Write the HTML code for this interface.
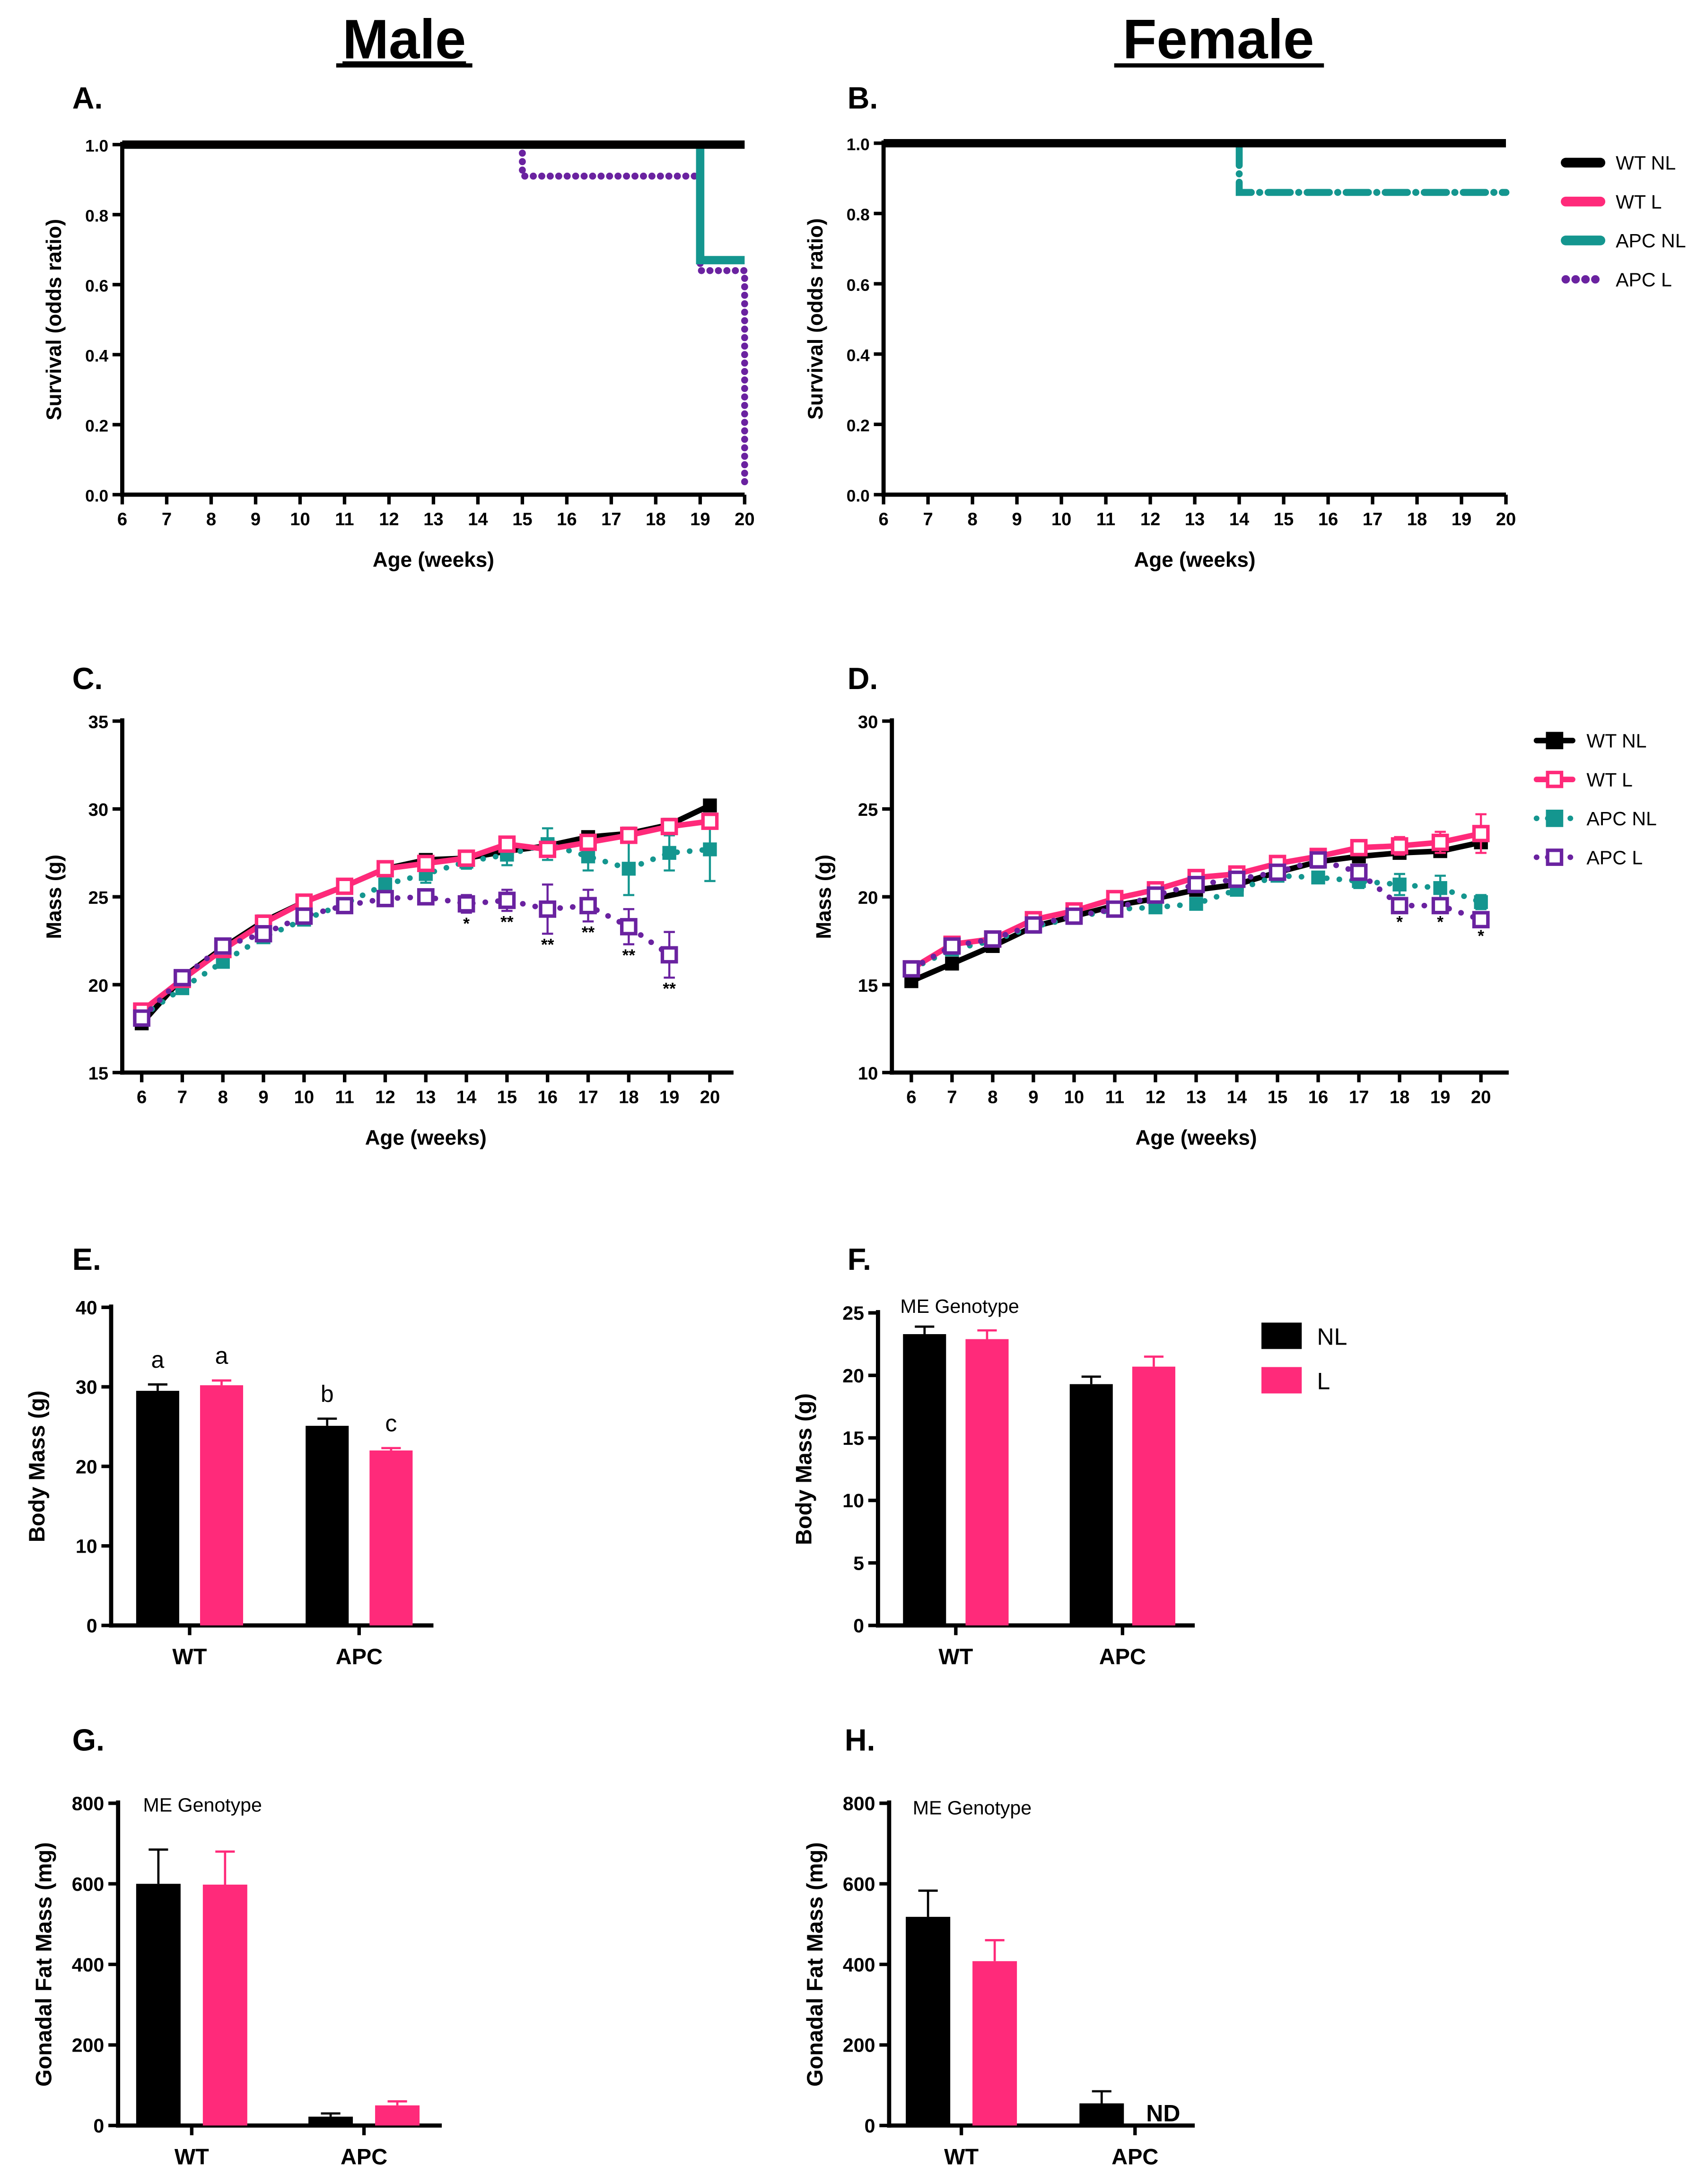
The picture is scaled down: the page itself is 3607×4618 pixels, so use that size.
<!DOCTYPE html>
<html><head><meta charset="utf-8"><style>
html,body{margin:0;padding:0;background:#fff}
svg{display:block}
text{font-family:"Liberation Sans",Arial,sans-serif;font-weight:bold;fill:#000}
</style></head><body>
<svg id="fig" width="3607" height="4618" viewBox="0 0 1228 1572" xmlns="http://www.w3.org/2000/svg">
<text x="291" y="42" font-size="40" text-anchor="middle" text-decoration="underline">Male</text>
<line x1="242" y1="47" x2="340" y2="47" stroke="#000" stroke-width="3"/>
<text x="877" y="42" font-size="40" text-anchor="middle">Female</text>
<line x1="802" y1="47" x2="953" y2="47" stroke="#000" stroke-width="3"/>
<g id="root"></g>
</svg>
<script>
const NS="http://www.w3.org/2000/svg";
const root=document.getElementById('root');
const BK="#000",PK="#ff2a7a",TL="#14968f",PU="#6a22a0";
function el(tag,attrs,parent,txt){const e=document.createElementNS(NS,tag);for(const k in attrs)e.setAttribute(k,attrs[k]);if(txt!==undefined)e.textContent=txt;(parent||root).appendChild(e);return e;}

// ---------- data ----------
const weeks=[6,7,8,9,10,11,12,13,14,15,16,17,18,19,20];
const survTicks=[0,0.2,0.4,0.6,0.8,1.0];
// survival step functions: [week, value] change points
const survA_wtnl=[[6,1],[20,1]];
const survA_apcnl=[[6,1],[19,1],[19,0.67],[20,0.67]];
const survA_apcl=[[15,1],[15,0.91],[19,0.91],[19,0.64],[20,0.64],[20,0.03]];
const survB_wtnl=[[6,1],[20,1]];
const survB_apcnl=[[14,1],[14,0.86],[20,0.86]];

const mC_wtnl=[17.8,20.4,22.1,23.6,24.7,25.6,26.6,27.1,27.2,27.6,27.9,28.4,28.6,29.1,30.2];
const mC_wtl=[18.5,20.3,22.0,23.5,24.7,25.6,26.6,26.9,27.2,28.0,27.7,28.1,28.5,29.0,29.3];
const mC_apcnl=[18.2,19.8,21.3,22.7,23.7,24.6,25.7,26.3,27.0,27.4,28.0,27.3,26.6,27.5,27.7];
const mC_apcl=[18.1,20.4,22.2,22.9,23.9,24.5,24.9,25.0,24.6,24.8,24.3,24.5,23.3,21.7];
const eC_apcnl=[0.3,0.3,0.3,0.3,0.3,0.3,0.4,0.5,0.4,0.6,0.9,0.8,1.5,1.0,1.8];
const eC_apcl=[0.3,0.3,0.3,0.3,0.3,0.4,0.4,0.4,0.5,0.6,1.4,0.9,1.0,1.3];
const starsC=["","","","","","","","","*","**","**","**","**","**"];

const mD_wtnl=[15.2,16.2,17.2,18.3,18.9,19.5,19.9,20.4,20.7,21.4,22.0,22.3,22.5,22.6,23.1];
const mD_wtl=[15.9,17.3,17.6,18.7,19.2,19.9,20.4,21.1,21.3,21.9,22.3,22.8,22.9,23.1,23.6];
const mD_apcnl=[15.9,17.0,17.5,18.3,18.8,19.3,19.4,19.6,20.4,21.2,21.1,20.9,20.7,20.5,19.7];
const mD_apcl=[15.9,17.2,17.6,18.4,18.9,19.3,20.1,20.7,21.0,21.4,22.1,21.4,19.5,19.5,18.7];
const eD_wtl=[0.3,0.3,0.3,0.3,0.3,0.3,0.3,0.3,0.3,0.3,0.4,0.4,0.5,0.6,1.1];
const eD_apcnl=[0.3,0.3,0.3,0.3,0.3,0.3,0.3,0.3,0.3,0.3,0.3,0.4,0.6,0.7,0.4];
const starsD=["","","","","","","","","","","","","*","*","*"];

const groups=["WT","APC"];
const bE_nl=[29.5,25.1],bE_l=[30.2,22.0],eE_nl=[0.8,0.9],eE_l=[0.6,0.3];
const lettersE_nl=["a","b"],lettersE_l=["a","c"];
const bF_nl=[23.3,19.3],bF_l=[22.9,20.7],eF_nl=[0.6,0.6],eF_l=[0.7,0.8];
const bG_nl=[600,22],bG_l=[598,50],eG_nl=[85,8],eG_l=[82,10];
const bH_nl=[518,55],bH_l=[408,null],eH_nl=[65,30],eH_l=[52,0];

// ---------- helpers ----------
function lin(d0,d1,r0,r1){return v=>r0+(v-d0)*(r1-r0)/(d1-d0);}
function axes(o){
  // o: x0,x1,y0(top),y1(bottom),sx,sy,yticks,yfmt,xticks,xlab,ylab,prefix
  const g=el('g',{});
  
  
  el('line',{x1:o.x0,y1:o.y0-2,x2:o.x0,y2:o.y1+1.5,stroke:'#000','stroke-width':3},g);
  el('line',{x1:o.x0-1.5,y1:o.y1,x2:o.x1,y2:o.y1,stroke:'#000','stroke-width':3},g);
  o.yticks.forEach(t=>{const y=o.sy(t);
    el('line',{x1:o.x0-7,y1:y,x2:o.x0,y2:y,stroke:'#000','stroke-width':2.5},g);
    const tx=el('text',{x:o.x0-10,y:y+5,'font-size':o.tfs||13,'text-anchor':'end'},g,o.yfmt?o.yfmt(t):t);
    
    
  });
  if(o.xticks){o.xticks.forEach(t=>{const x=o.sx(t);
    el('line',{x1:x,y1:o.y1,x2:x,y2:o.y1+7,stroke:'#000','stroke-width':2.5},g);
    const tx=el('text',{x:x,y:o.y1+22,'font-size':13,'text-anchor':'middle'},g,t);
    
    
  });}
  if(o.xlab){const t=el('text',{x:o.xlabx,y:o.xlaby,'font-size':15,'text-anchor':'middle'},g,o.xlab);
    }
  const yl=el('text',{x:0,y:0,'font-size':o.ylfs||15,'text-anchor':'middle',transform:`translate(${o.ylx},${(o.y0+o.y1)/2}) rotate(-90)`},g,o.ylab);
  
}
function letter(x,y,s){const t=el('text',{x:x,y:y,'font-size':22},root,s);
  }

// ---------- survival panels ----------
function survPanel(pref,x0,x1,y0,y1,series){
  const sx=lin(6,20,x0,x1),sy=lin(0,1,y1,y0);
  axes({x0:x0,x1:x1,y0:y0,y1:y1,sx:sx,sy:sy,yticks:survTicks,yfmt:t=>t.toFixed(1),xticks:weeks,
    xlab:'Age (weeks)',xlabx:(x0+x1)/2,xlaby:y1+52,ylab:'Survival (odds ratio)',ylx:x0-44,prefix:pref,tfs:12});
  series.forEach(s=>{
    const p=el('polyline',{points:s.pts.map(q=>sx(q[0])+','+sy(q[1])).join(' '),fill:'none',stroke:s.c,'stroke-width':s.w,'stroke-dasharray':s.d||'none','stroke-linecap':s.cap||'butt'});
    
    
  });
}
letter(52,78,'A.');letter(610,78,'B.');
survPanel('panel-a',88,536,104,356,[
  {pts:survA_apcl,c:PU,w:5,d:'0.1 6',cap:'round',n:'apc-l'},
  {pts:survA_apcnl,c:TL,w:6,n:'apc-nl'},
  {pts:survA_wtnl,c:BK,w:6,n:'wt-nl'}]);
survPanel('panel-b',636,1084,103,356,[
  {pts:survB_apcnl,c:TL,w:5,d:'16 6 0.1 6',cap:'round',n:'apc-nl'},
  {pts:survB_wtnl,c:BK,w:6,n:'wt-nl'}]);
// legend A/B
[['WT NL',BK,null],['WT L',PK,null],['APC NL',TL,null],['APC L',PU,'0.1 7']].forEach((L,i)=>{
  const y=117+i*28;const g=el('g',{});
  
  el('line',{x1:1127,y1:y,x2:1152,y2:y,stroke:L[1],'stroke-width':L[2]?6:7,'stroke-dasharray':L[2]||'none','stroke-linecap':L[2]?'round':'round'},g);
  el('text',{x:1163,y:y+5,'font-size':14,style:'font-weight:normal'},g,L[0]);
});

// ---------- mass over time ----------
function massPanel(pref,x0,x1,x6,x20,y0,y1,ymin,ymax,yt,series,stars,starBase){
  const sx=lin(6,20,x6,x20),sy=lin(ymin,ymax,y1,y0);
  axes({x0:x0,x1:x1,y0:y0,y1:y1,sx:sx,sy:sy,yticks:yt,xticks:weeks,
    xlab:'Age (weeks)',xlabx:(x6+x20)/2,xlaby:y1+52,ylab:'Mass (g)',ylx:x0-44,prefix:pref});
  series.forEach(s=>{
    const g=el('g',{});
    
    el('polyline',{points:s.v.map((v,i)=>sx(weeks[i])+','+sy(v)).join(' '),fill:'none',stroke:s.c,'stroke-width':s.w,'stroke-dasharray':s.d||'none','stroke-linecap':'round'},g);
    s.v.forEach((v,i)=>{const x=sx(weeks[i]),y=sy(v);
      const e=(s.e?s.e[i]:0.25);
      el('line',{x1:x,y1:sy(v-e),x2:x,y2:sy(v+e),stroke:s.c,'stroke-width':1.5},g);
      el('line',{x1:x-4,y1:sy(v-e),x2:x+4,y2:sy(v-e),stroke:s.c,'stroke-width':1.5},g);
      el('line',{x1:x-4,y1:sy(v+e),x2:x+4,y2:sy(v+e),stroke:s.c,'stroke-width':1.5},g);
      const m=el('rect',{x:x-5,y:y-5,width:10,height:10,fill:s.open?'#fff':s.c,stroke:s.c,'stroke-width':s.open?2.5:0},g);
      
    });
  });
  const ap=series[series.length-1];
  stars.forEach((st,i)=>{if(!st)return;const v=ap.v[i],e=ap.e?ap.e[i]:0.3;
    const t=el('text',{x:sx(weeks[i]),y:sy(v-e)+12,'font-size':12,'text-anchor':'middle'},root,st);
    });
}
letter(52,496,'C.');letter(610,496,'D.');
massPanel('panel-c',88,528,102,511,519,772,15,35,[15,20,25,30,35],[
  {n:'wt-nl',v:mC_wtnl,c:BK,w:4},
  {n:'apc-nl',v:mC_apcnl,e:eC_apcnl,c:TL,w:4,d:'0.1 9'},
  {n:'wt-l',v:mC_wtl,c:PK,w:4,open:true},
  {n:'apc-l',v:mC_apcl,e:eC_apcl,c:PU,w:4,d:'0.1 9',open:true}],starsC);
massPanel('panel-d',642,1086,656,1066,519,772,10,30,[10,15,20,25,30],[
  {n:'wt-nl',v:mD_wtnl,c:BK,w:4},
  {n:'apc-nl',v:mD_apcnl,e:eD_apcnl,c:TL,w:4,d:'0.1 9'},
  {n:'wt-l',v:mD_wtl,e:eD_wtl,c:PK,w:4,open:true},
  {n:'apc-l',v:mD_apcl,c:PU,w:4,d:'0.1 9',open:true}],starsD);
[['WT NL',BK,null,false],['WT L',PK,null,true],['APC NL',TL,'0.1 8',false],['APC L',PU,'0.1 8',true]].forEach((L,i)=>{
  const y=533+i*28;const g=el('g',{});
  
  el('line',{x1:1106,y1:y,x2:1132,y2:y,stroke:L[1],'stroke-width':4,'stroke-dasharray':L[2]||'none','stroke-linecap':'round'},g);
  el('rect',{x:1114,y:y-5,width:10,height:10,fill:L[3]?'#fff':L[1],stroke:L[1],'stroke-width':2.5},g);
  el('text',{x:1142,y:y+5,'font-size':14,style:'font-weight:normal'},g,L[0]);
});

// ---------- bar panels ----------
function barPanel(pref,x0,x1,y0,y1,ymax,yt,bx,nl,l,enl,el_,ylab,opts){
  const sy=lin(0,ymax,y1,y0);
  axes({x0:x0,x1:x1,y0:y0,y1:y1,sy:sy,yticks:yt,ylab:ylab,ylx:x0-48,prefix:pref,ylfs:16,tfs:14});
  groups.forEach((gname,i)=>{
    [[nl,enl,BK,0,'nl'],[l,el_,PK,1,'l']].forEach(b=>{
      const v=b[0][i];if(v===null)return;
      const x=bx[i]+b[3]*(opts.gap),w=opts.bw,e=b[1][i];
      el('line',{x1:x+w/2,y1:sy(v),x2:x+w/2,y2:sy(v+e),stroke:b[2],'stroke-width':1.6});
      el('line',{x1:x+w/2-7,y1:sy(v+e),x2:x+w/2+7,y2:sy(v+e),stroke:b[2],'stroke-width':1.6});
      const r=el('rect',{x:x,y:sy(v),width:w,height:sy(0)-sy(v),fill:b[2]});
      
      
      if(opts.letters){const t=el('text',{x:x+w/2,y:sy(v+e)-12,'font-size':17,'text-anchor':'middle',style:'font-weight:normal'},root,opts.letters[b[3]][i]);
        }
    });
    const cx=bx[i]+opts.gap/2+opts.bw/2;
    el('line',{x1:cx,y1:y1,x2:cx,y2:y1+7,stroke:'#000','stroke-width':2.5});
    const t=el('text',{x:cx,y:y1+28,'font-size':16,'text-anchor':'middle'},root,gname);
    
  });
  if(opts.me){const t=el('text',{x:opts.me[0],y:opts.me[1],'font-size':14,style:'font-weight:normal'},root,'ME Genotype');
    }
}
letter(52,914,'E.');letter(610,914,'F.');letter(52,1260,'G.');letter(608,1260,'H.');
barPanel('panel-e',80,312,941,1170,40,[0,10,20,30,40],[98,220],bE_nl,bE_l,eE_nl,eE_l,'Body Mass (g)',{bw:31,gap:46,letters:[lettersE_nl,lettersE_l]});
barPanel('panel-f',632,860,945,1170,25,[0,5,10,15,20,25],[650,770],bF_nl,bF_l,eF_nl,eF_l,'Body Mass (g)',{bw:31,gap:45,me:[648,945]});
barPanel('panel-g',85,318,1298,1530,800,[0,200,400,600,800],[98,222],bG_nl,bG_l,eG_nl,eG_l,'Gonadal Fat Mass (mg)',{bw:32,gap:48,me:[103,1304]});
barPanel('panel-h',640,860,1298,1530,800,[0,200,400,600,800],[652,777],bH_nl,bH_l,eH_nl,eH_l,'Gonadal Fat Mass (mg)',{bw:32,gap:48,me:[657,1306]});
{const t=el('text',{x:825,y:1527,'font-size':17},root,'ND');}
// bar legend
[['NL',BK],['L',PK]].forEach((L,i)=>{const g=el('g',{});
  
  el('rect',{x:908,y:952+i*32,width:29,height:19,fill:L[1]},g);
  el('text',{x:948,y:968+i*32,'font-size':17,style:'font-weight:normal'},g,L[0]);});
</script>
</body></html>
